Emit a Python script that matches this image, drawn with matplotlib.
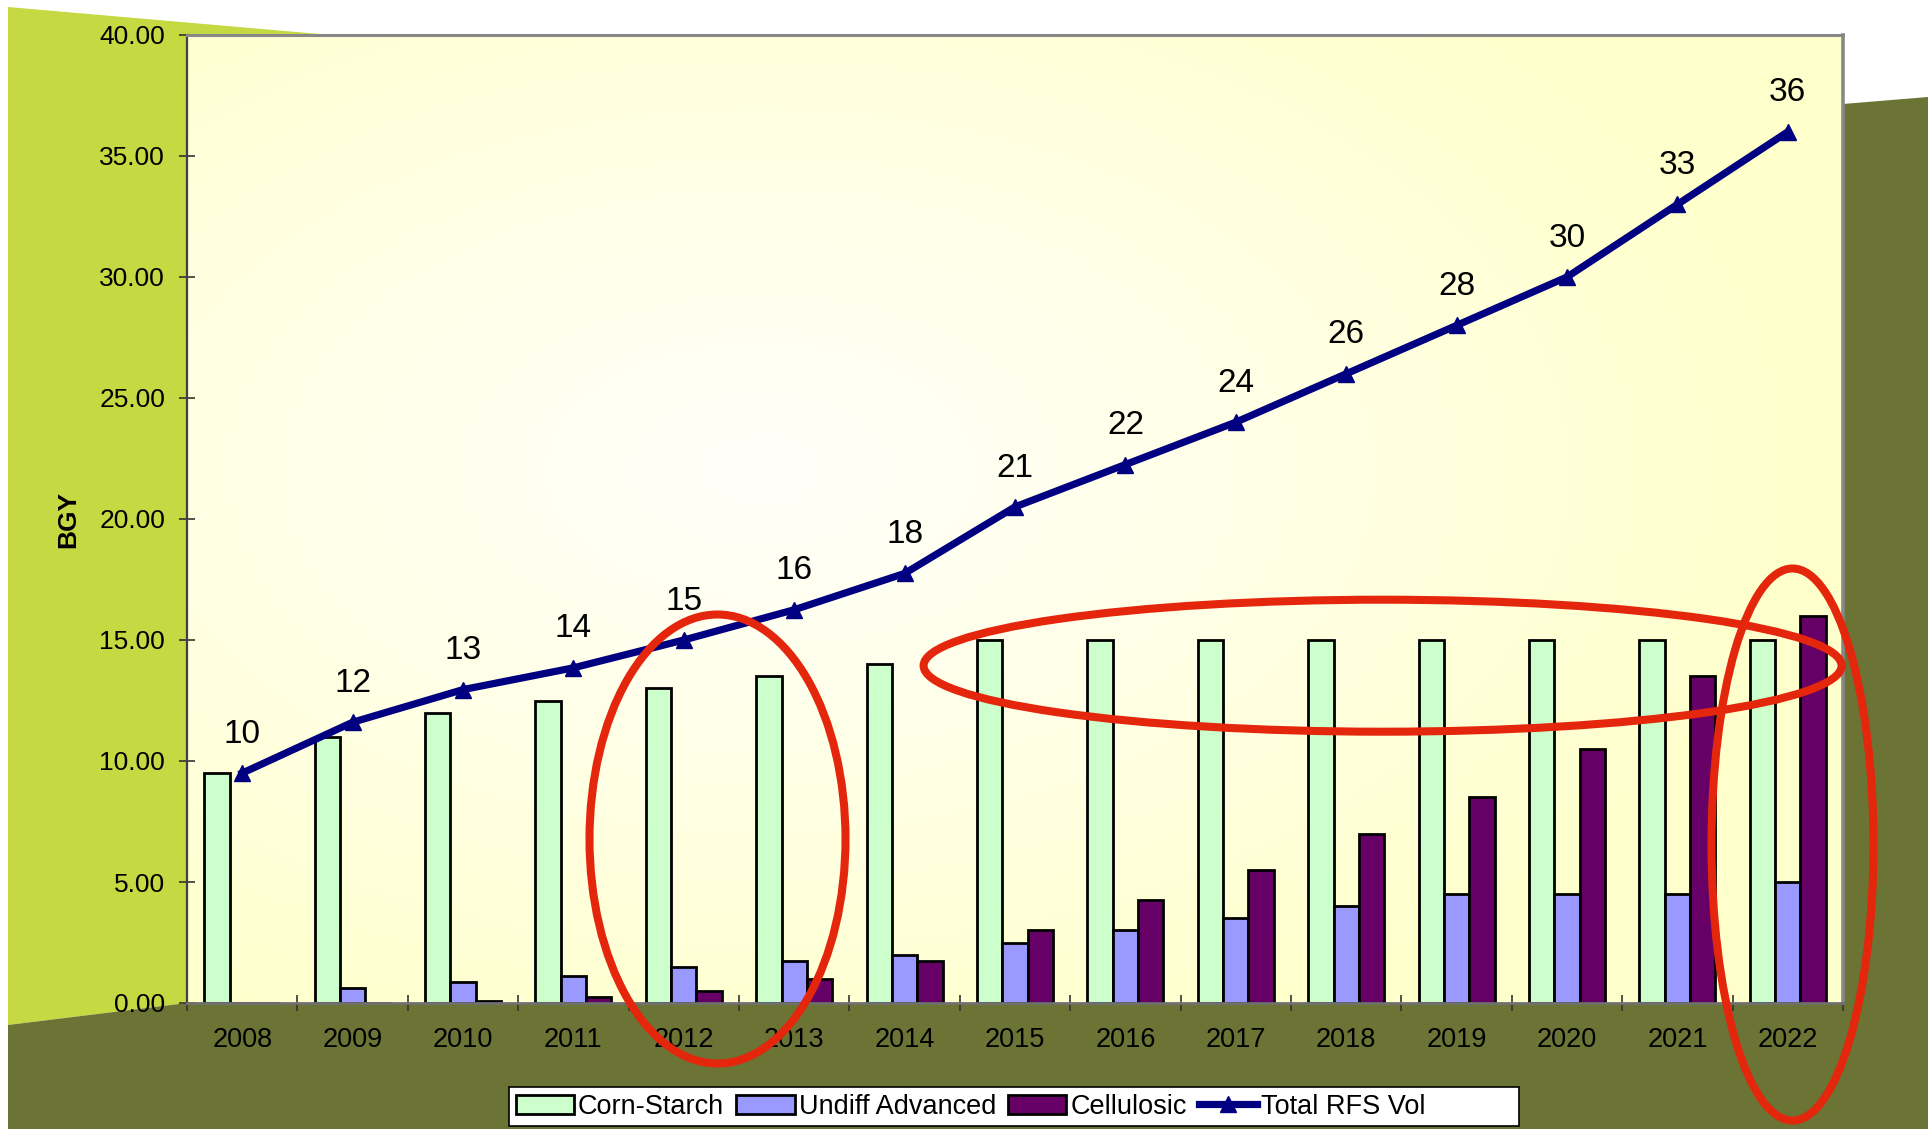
import math
import numpy as np
import matplotlib
matplotlib.use("Agg")
import matplotlib.pyplot as plt
from matplotlib.patches import Polygon, Ellipse, Rectangle
from matplotlib.ticker import FormatStrFormatter, FixedLocator

plt.rcParams['font.family'] = ['Liberation Sans', 'DejaVu Sans']

# ---------------- data ----------------
years = ['2008', '2009', '2010', '2011', '2012', '2013', '2014', '2015',
         '2016', '2017', '2018', '2019', '2020', '2021', '2022']
corn_starch = [9.5, 11.0, 12.0, 12.5, 13.0, 13.5, 14.0, 15.0, 15.0, 15.0,
               15.0, 15.0, 15.0, 15.0, 15.0]
undiff_advanced = [0.0, 0.6, 0.85, 1.1, 1.5, 1.75, 2.0, 2.5, 3.0, 3.5,
                   4.0, 4.5, 4.5, 4.5, 5.0]
cellulosic = [0.0, 0.0, 0.1, 0.25, 0.5, 1.0, 1.75, 3.0, 4.25, 5.5,
              7.0, 8.5, 10.5, 13.5, 16.0]
total_rfs = [9.5, 11.6, 12.95, 13.85, 15.0, 16.25, 17.75, 20.5, 22.25, 24.0,
             26.0, 28.0, 30.0, 33.0, 36.0]
y_ticks = [0, 5, 10, 15, 20, 25, 30, 35, 40]

# ---------------- figure ----------------
W, H = 1933, 1129
fig = plt.figure(figsize=(W / 100, H / 100), dpi=100, facecolor='white')

# background layer in pixel coordinates
bg = fig.add_axes([0, 0, 1, 1], zorder=0)
bg.set_xlim(0, W)
bg.set_ylim(H, 0)
bg.axis('off')

green = Polygon([(8, 7), (700, 67), (700, 900), (187, 1003), (8, 1025)],
                closed=True, facecolor='#C4D942', edgecolor='none')
olive = Polygon([(8, 1025), (187, 1003), (1000, 600), (1843, 104), (1928, 97),
                 (1928, H), (8, H)], closed=True, facecolor='#6B7335',
                edgecolor='none')
bg.add_patch(green)
bg.add_patch(olive)

# plot area radial gradient
L, R, T, B = 187, 1843, 35, 1003
nx, ny = 330, 200
gx = np.linspace(L, R, nx)
gy = np.linspace(T, B, ny)
GX, GY = np.meshgrid(gx, gy)
cx, cy = 760, 470
d = np.sqrt(((GX - cx) / 1050.0) ** 2 + ((GY - cy) / 620.0) ** 2)
t = np.clip(d, 0, 1) ** 1.2
c_center = np.array([1.0, 1.0, 0.975])
c_edge = np.array([1.0, 1.0, 0.80])
img = c_center[None, None, :] * (1 - t[..., None]) + c_edge[None, None, :] * t[..., None]
bg.imshow(img, extent=[L, R, B, T], origin='upper', aspect='auto',
          interpolation='bilinear', zorder=1)
bg.set_xlim(0, W)
bg.set_ylim(H, 0)

# main axes
ax = fig.add_axes([L / W, 1 - B / H, (R - L) / W, (B - T) / H], zorder=2)
ax.set_facecolor('none')

x = np.arange(len(years))
bw = 0.23
edge_kw = dict(edgecolor='black', linewidth=2.0, zorder=2)
b1 = ax.bar(x - bw, corn_starch, bw, color='#CCFFCC', label='Corn-Starch', **edge_kw)
b2 = ax.bar(x, undiff_advanced, bw, color='#9999FF', label='Undiff Advanced', **edge_kw)
b3 = ax.bar(x + bw, cellulosic, bw, color='#660066', label='Cellulosic', **edge_kw)
ln, = ax.plot(x, total_rfs, color='#000080', linewidth=5.2, marker='^',
              markersize=12, label='Total RFS Vol', zorder=4, clip_on=False)

for xi, v in zip(x, total_rfs):
    ax.annotate(f"{math.floor(v + 0.5):d}", (xi, v), xytext=(0, 28),
                textcoords='offset points', ha='center', va='center',
                fontsize=24, color='black', zorder=5)

ax.set_xlim(-0.5, len(years) - 0.5)
ax.set_ylim(0, 40)
ax.set_yticks(y_ticks)
ax.yaxis.set_major_formatter(FormatStrFormatter('%.2f'))
ax.tick_params(axis='y', direction='inout', length=11.5, width=1.2,
               color='#333333', labelsize=19, pad=10)

ax.xaxis.set_major_locator(FixedLocator(np.arange(-0.5, len(years), 1.0)))
ax.xaxis.set_minor_locator(FixedLocator(x))
ax.set_xticklabels([], minor=False)
ax.set_xticks(x, years, minor=True)
ax.tick_params(axis='x', which='major', direction='inout', length=11,
               width=1.2, color='#333333')
ax.tick_params(axis='x', which='minor', length=0, labelsize=19.5, pad=17)

ax.spines['left'].set_color('#404040')
ax.spines['left'].set_linewidth(1.6)
ax.spines['bottom'].set_color('#707070')
ax.spines['bottom'].set_linewidth(2.0)
ax.spines['top'].set_color('#888888')
ax.spines['top'].set_linewidth(2.2)
ax.spines['right'].set_color('#888888')
ax.spines['right'].set_linewidth(2.6)

ax.set_ylabel('BGY', fontsize=19, fontweight='bold')
ax.yaxis.set_label_coords(-0.0646, 0.5)

# overlay layer in pixel coordinates (legend box, red ellipses)
ov = fig.add_axes([0, 0, 1, 1], zorder=5)
ov.set_xlim(0, W)
ov.set_ylim(H, 0)
ov.axis('off')
ov.set_facecolor('none')
ov.add_patch(Rectangle((509, 1087), 1010, 39, facecolor='white',
                       edgecolor='black', linewidth=1.2))
for (ex, ey, ew, eh) in [(717.5, 839, 256, 449), (1382.6, 665.7, 918, 132),
                         (1792.5, 844.5, 162, 552)]:
    ov.add_patch(Ellipse((ex, ey), ew, eh, facecolor='none',
                         edgecolor='#E3260C', linewidth=5.8))

leg = fig.legend(handles=[b1, b2, b3, ln], loc='center left',
                 bbox_to_anchor=(509 / W, 1 - 1106.5 / H), ncol=4,
                 fontsize=19.5, frameon=False,
                 borderpad=0.25, handletextpad=0.15,
                 columnspacing=0.45, handlelength=2.15, borderaxespad=0)
leg.set_zorder(6)

fig.savefig('out.png', dpi=100, facecolor='white')
